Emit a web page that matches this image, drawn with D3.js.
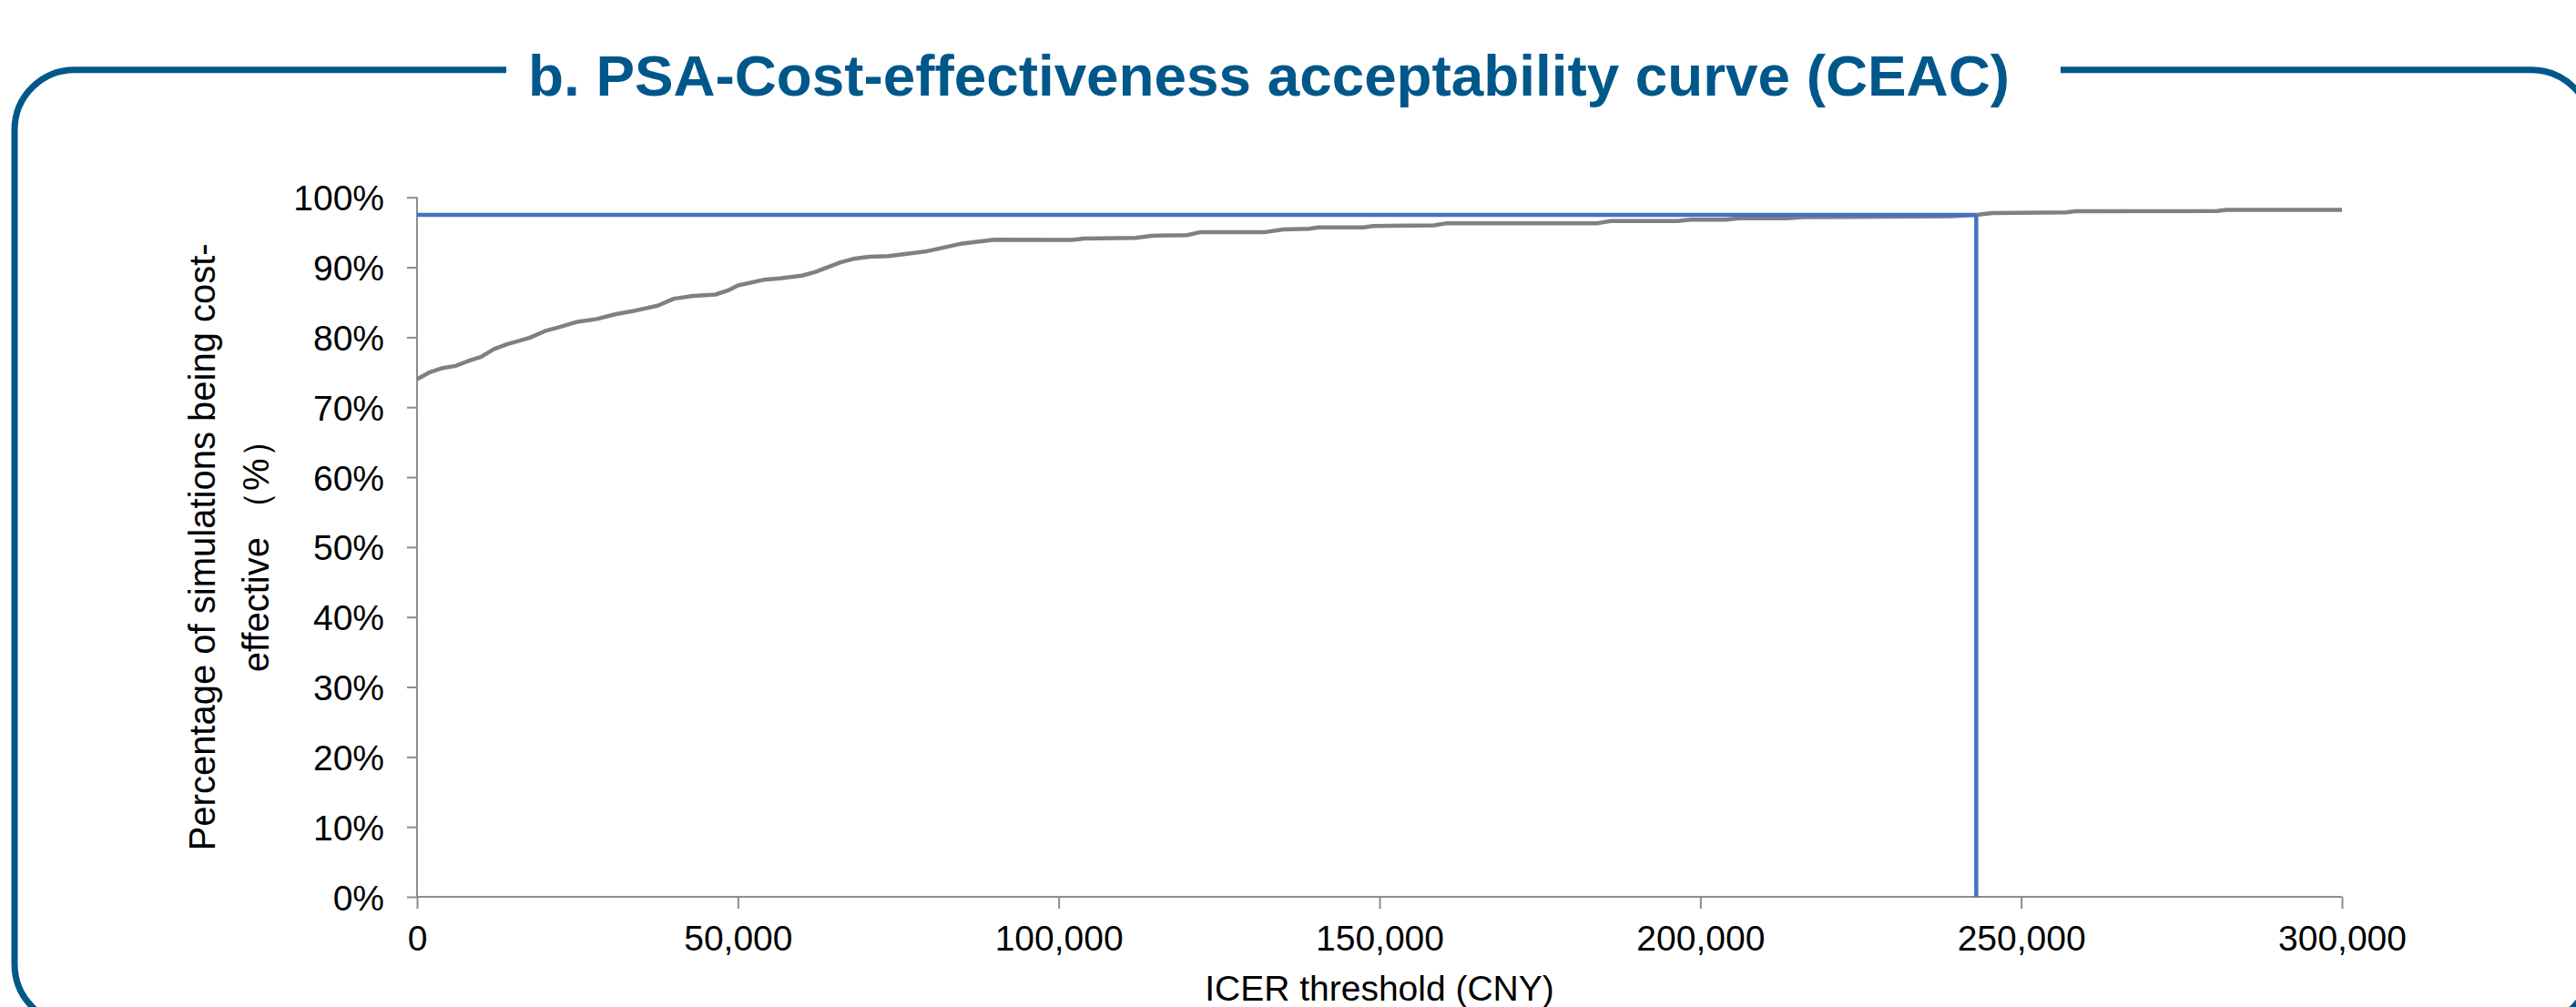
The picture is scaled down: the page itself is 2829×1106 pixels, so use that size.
<!DOCTYPE html>
<html>
<head>
<meta charset="utf-8">
<script src="https://cdn.jsdelivr.net/npm/d3@7"></script>
<style>
  html, body { margin: 0; padding: 0; background: #ffffff; }
  svg { display: block; }
</style>
</head>
<body>
<svg id="chart" width="2829" height="1106"></svg>
<script>
// ---------------- data ----------------
const titleText = "b. PSA-Cost-effectiveness acceptability curve (CEAC)";
const xTitle = "ICER threshold (CNY)";
const yTitleLines = ["Percentage of simulations being cost-", "effective （%）"];

const thresholds = [0, 2000, 4000, 6000, 8000, 10000, 12000, 14000, 17500, 20000,
  22000, 25000, 28000, 31000, 34000, 37500, 40000, 43000, 46500, 48500,
  50000, 54000, 56500, 60000, 62000, 66000, 68000, 70500, 73500, 79500,
  85000, 90000, 102000, 104000, 112000, 114500, 120000, 122000, 132000, 135000,
  139000, 140500, 147500, 149000, 158500, 160500, 184000, 186000, 196500, 198500,
  204000, 206000, 213500, 216000, 239000, 243000, 245500, 257000, 258500, 280500,
  282000, 300000];
const probCE = [74.0, 75.0, 75.6, 75.9, 76.6, 77.2, 78.3, 79.0, 79.9, 80.9,
  81.4, 82.2, 82.6, 83.3, 83.8, 84.5, 85.5, 85.9, 86.1, 86.7,
  87.4, 88.2, 88.4, 88.8, 89.3, 90.7, 91.2, 91.5, 91.6, 92.3,
  93.4, 93.95, 93.9, 94.1, 94.2, 94.5, 94.6, 95.0, 95.0, 95.4,
  95.5, 95.7, 95.7, 95.9, 96.0, 96.3, 96.3, 96.6, 96.6, 96.8,
  96.8, 97.0, 97.0, 97.15, 97.3, 97.5, 97.75, 97.85, 98.0, 98.05,
  98.2, 98.2];

const wtpThreshold = 243000;   // vertical reference line
const wtpProb = 97.5;          // horizontal reference line

const xTicks = [0, 50000, 100000, 150000, 200000, 250000, 300000];
const yTicks = [0, 10, 20, 30, 40, 50, 60, 70, 80, 90, 100];

// ---------------- layout ----------------
const svg = d3.select("#chart");
const plot = { left: 458, right: 2572, top: 216.7, bottom: 985 };

const x = d3.scaleLinear().domain([0, 300000]).range([plot.left, plot.right]);
const y = d3.scaleLinear().domain([0, 100]).range([plot.bottom, plot.top]);

const frameColor = "#00578A";
const fontFam = "'Liberation Sans', Arial, Helvetica, sans-serif";

// ---------------- frame ----------------
const fr = { left: 16, right: 2846, top: 76.7, bottom: 1125, r: 66 };
const gapL = 556, gapR = 2263;
const framePath = d3.path();
framePath.moveTo(gapL, fr.top);
framePath.lineTo(fr.left + fr.r, fr.top);
framePath.arcTo(fr.left, fr.top, fr.left, fr.top + fr.r, fr.r);
framePath.lineTo(fr.left, fr.bottom - fr.r);
framePath.arcTo(fr.left, fr.bottom, fr.left + fr.r, fr.bottom, fr.r);
framePath.lineTo(fr.right - fr.r, fr.bottom);
framePath.arcTo(fr.right, fr.bottom, fr.right, fr.bottom - fr.r, fr.r);
framePath.lineTo(fr.right, fr.top + fr.r);
framePath.arcTo(fr.right, fr.top, fr.right - fr.r, fr.top, fr.r);
framePath.lineTo(gapR, fr.top);
svg.append("path")
  .attr("d", framePath.toString())
  .attr("fill", "none")
  .attr("stroke", frameColor)
  .attr("stroke-width", 7);

// ---------------- title ----------------
svg.append("text")
  .attr("x", (580 + 2207) / 2)
  .attr("y", 105)
  .attr("text-anchor", "middle")
  .attr("font-family", fontFam)
  .attr("font-weight", "bold")
  .attr("font-size", 63)
  .attr("fill", frameColor)
  .attr("textLength", 1627)
  .attr("lengthAdjust", "spacingAndGlyphs")
  .text(titleText);

// ---------------- axes ----------------
const axisColor = "#8C8C8C";
const fmtX = d3.format(",");

const gx = svg.append("g")
  .attr("transform", `translate(0,${plot.bottom})`)
  .call(d3.axisBottom(x).tickValues(xTicks).tickFormat(fmtX).tickSize(13).tickPadding(18));
const gy = svg.append("g")
  .attr("transform", `translate(${plot.left},0)`)
  .call(d3.axisLeft(y).tickValues(yTicks).tickFormat(d => d + "%").tickSize(11).tickPadding(25));

[gx, gy].forEach(g => {
  g.select(".domain").attr("stroke", axisColor).attr("stroke-width", 2);
  g.selectAll(".tick line").attr("stroke", axisColor).attr("stroke-width", 2);
  g.selectAll(".tick text")
    .attr("font-family", fontFam)
    .attr("font-size", 39)
    .attr("fill", "#000000");
});
gx.select(".domain").attr("d", `M${plot.left},0H${plot.right}`);
gy.select(".domain").attr("d", `M0,${plot.top}V${plot.bottom}`);
gy.selectAll(".tick text").attr("dy", "0.36em");
gx.selectAll(".tick text").attr("dy", "0.71em");

// axis titles
svg.append("text")
  .attr("x", (plot.left + plot.right) / 2)
  .attr("y", 1099)
  .attr("text-anchor", "middle")
  .attr("font-family", fontFam)
  .attr("font-size", 39)
  .attr("fill", "#000000")
  .text(xTitle);

const yTitle = svg.append("text")
  .attr("transform", `translate(236,${(plot.top + plot.bottom) / 2}) rotate(-90)`)
  .attr("text-anchor", "middle")
  .attr("font-family", fontFam)
  .attr("font-size", 40)
  .attr("fill", "#000000");
yTitleLines.forEach((t, i) => {
  yTitle.append("tspan")
    .attr("x", 0)
    .attr("y", i * 59)
    .text(t);
});

// ---------------- CEAC curve ----------------
const pts = thresholds.map((t, i) => [t, probCE[i]]);
const line = d3.line().x(d => x(d[0])).y(d => y(d[1]));
svg.append("path")
  .datum(pts)
  .attr("d", line)
  .attr("fill", "none")
  .attr("stroke", "#808080")
  .attr("stroke-width", 4.5)
  .attr("stroke-linejoin", "round");

// ---------------- reference lines ----------------
const refColor = "#4472C4";
svg.append("line")
  .attr("x1", x(0)).attr("x2", x(wtpThreshold))
  .attr("y1", y(wtpProb)).attr("y2", y(wtpProb))
  .attr("stroke", refColor).attr("stroke-width", 4.5);
svg.append("line")
  .attr("x1", x(wtpThreshold)).attr("x2", x(wtpThreshold))
  .attr("y1", y(wtpProb)).attr("y2", y(0))
  .attr("stroke", refColor).attr("stroke-width", 4.5);
</script>
</body>
</html>
